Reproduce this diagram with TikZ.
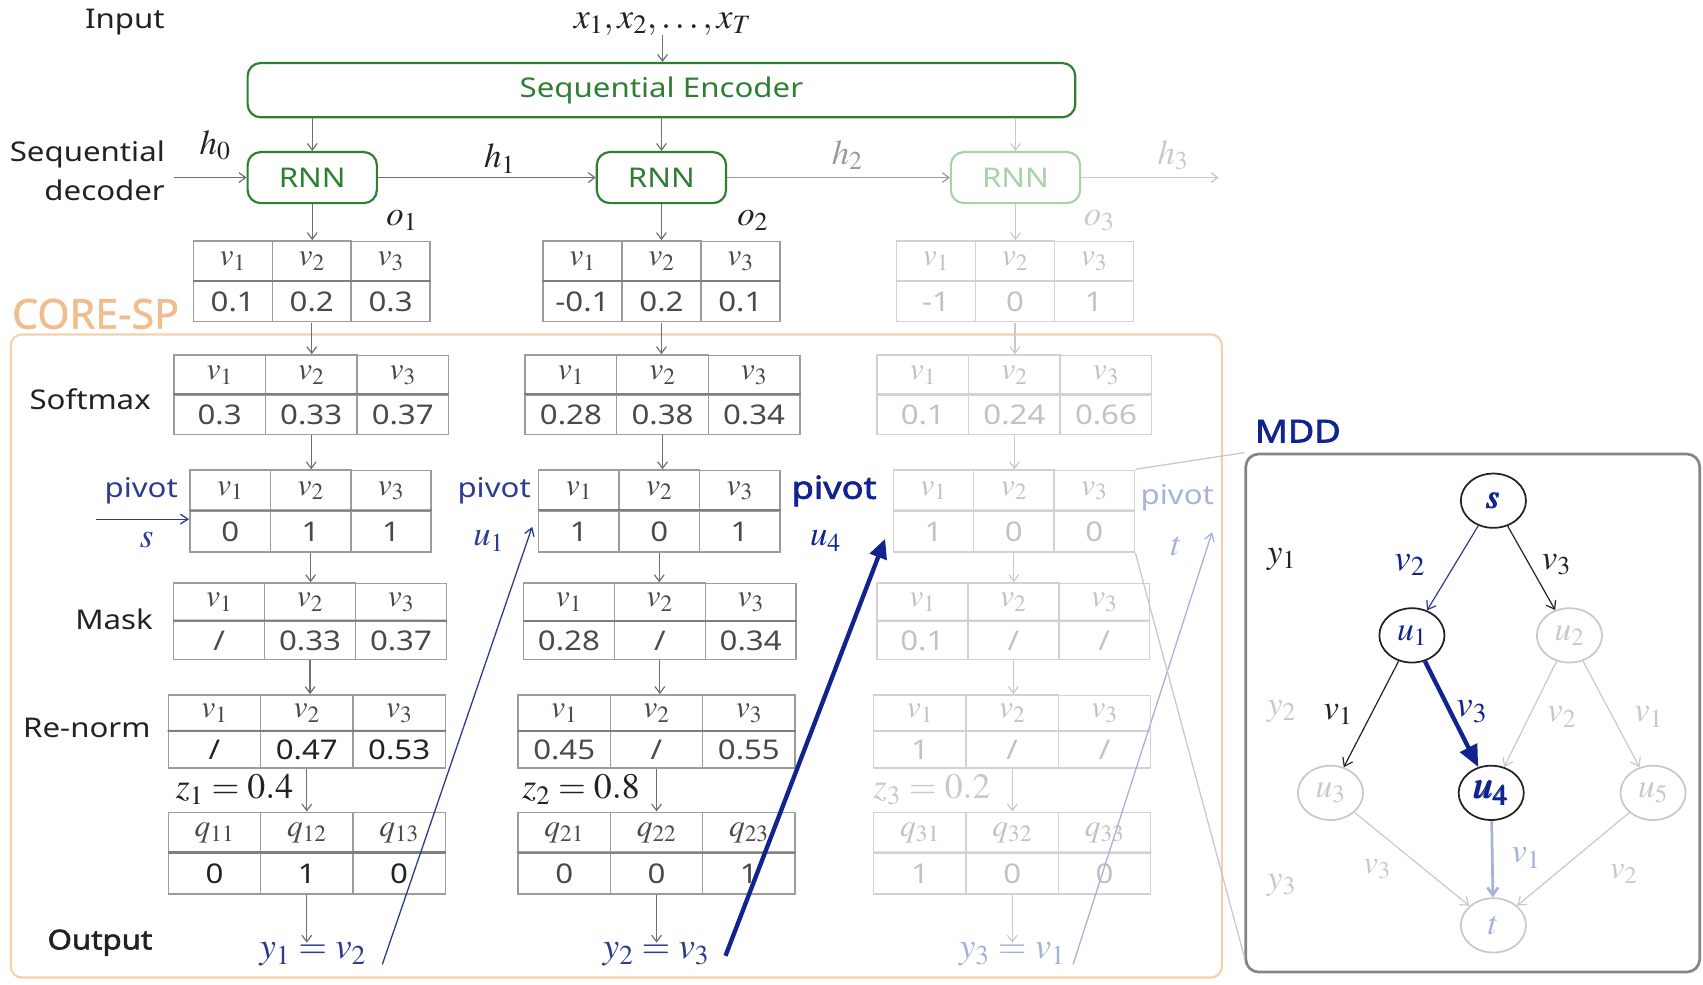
\RequirePackage{fix-cm}
\documentclass[tikz,border=0pt]{standalone}
\usepackage{amsmath}
\IfFileExists{mathptmx.sty}{\usepackage{mathptmx}}{}
\usepackage[no-math]{fontspec}
\setmainfont[FakeStretch=1.15, AutoFakeBold=2.2]{Noto Sans}
\newfontfamily\corefont[FakeBold=1.2]{Noto Sans}
\usetikzlibrary{arrows.meta,shapes.geometric,matrix,calc}

\definecolor{encgreen}{HTML}{2F7F33}
\definecolor{palegreen}{HTML}{A8D2A8}
\definecolor{labelblack}{HTML}{222222}
\definecolor{arrgray}{HTML}{707070}
\definecolor{midgray}{HTML}{9A9A9A}
\definecolor{palegray}{HTML}{C9C9C9}
\definecolor{tline}{HTML}{9C9C9C}
\definecolor{tsep}{HTML}{7E7E7E}
\definecolor{ttext}{HTML}{4A4A4A}
\definecolor{lline}{HTML}{D2D2D2}
\definecolor{ltext}{HTML}{C2C2C2}
\definecolor{peach}{HTML}{F4D0AC}
\definecolor{peachtext}{HTML}{F2BD8E}
\definecolor{pivblue}{HTML}{2C3C90}
\definecolor{navy}{HTML}{11238F}
\definecolor{lightblue}{HTML}{A7B2DC}
\definecolor{mddgray}{HTML}{858585}

\begin{document}
\begin{tikzpicture}[x=1pt,y=-1pt,
  lbl/.style={font=\fontsize{25}{36}\selectfont, text=labelblack, inner sep=0pt},
  mlbl/.style={font=\fontsize{#1}{#1}\selectfont, text=labelblack, inner sep=0pt},
  arr/.style={draw=arrgray, line width=1.1pt, -{Straight Barb[length=6pt,width=9pt]}},
  greenbox/.style={draw=encgreen, line width=2pt, rounded corners=12pt, text=encgreen,
    font=\fontsize{25}{25}\selectfont},
  vtab/.style={matrix of nodes, inner sep=0pt, column sep=-1.3pt, row sep=-1.3pt,
    nodes={draw=tline, line width=1.3pt, inner sep=0pt, text=ttext,
      font=\fontsize{25}{25}\selectfont},
    row 1/.style={nodes={font=\fontsize{29}{29}\selectfont}}},
  vtabL/.style={vtab, nodes={draw=lline, text=ltext}},
  cell/.style 2 args={nodes={minimum width=#1pt, minimum height=#2pt}},
  sepline/.style={draw=tsep, line width=2pt},
  sepL/.style={draw=lline, line width=2pt},
  pivarrow/.style={draw=pivblue, line width=1.2pt, -{Straight Barb[length=7pt,width=9pt]}},
  zoomline/.style={draw=palegray, line width=1.2pt},
  mnode/.style={ellipse, draw=labelblack, line width=1.6pt, minimum width=60pt,
    minimum height=50pt, inner sep=0pt, font=\fontsize{31}{31}\selectfont},
  medge/.style={line width=1.1pt, -{Straight Barb[length=7pt,width=10pt]}}
]
\useasboundingbox (0,0) rectangle (1568,906);

% ---------------- encoder / decoder ----------------
\node[lbl] (inp) at (115,20) {Input};
\node[mlbl=33] (xs) at (610,22) {$x_1, x_2, \ldots, x_T$};
\node[greenbox, minimum width=762pt, minimum height=50pt] (enc) at (609,83) {Sequential Encoder};
\draw[arr] (xs.south) -- (xs.south |- enc.north);

\node[lbl, align=right, anchor=east] (dec) at (152,157) {Sequential\\decoder};

\node[greenbox, minimum width=119pt, minimum height=47pt] (rnn1) at (287.5,163.5) {RNN};
\node[greenbox, minimum width=119pt, minimum height=47pt] (rnn2) at (609,163.5) {RNN};
\node[greenbox, draw=palegreen, text=palegreen, minimum width=119pt, minimum height=47pt] (rnn3) at (935,163.5) {RNN};

\draw[arr] (enc.south -| rnn1.north) -- (rnn1.north);
\draw[arr] (enc.south -| rnn2.north) -- (rnn2.north);
\draw[arr, draw=palegray] (enc.south -| rnn3.north) -- (rnn3.north);

\coordinate (h0in) at (160,163.5);
\coordinate (h3out) at (1122,163.5);
\draw[arr] (h0in) -- (rnn1.west);
\draw[arr] (rnn1.east) -- (rnn2.west);
\draw[arr, draw=midgray] (rnn2.east) -- (rnn3.west);
\draw[arr, draw=palegray] (rnn3.east) -- (h3out);
\node[mlbl=32] (h0) at (198,134) {$h_0$};
\node[mlbl=32] (h1) at (460,146) {$h_1$};
\node[mlbl=32, text=midgray] (h2) at (780,143) {$h_2$};
\node[mlbl=32, text=palegray] (h3) at (1080,143) {$h_3$};

\node[mlbl=32] (o1) at (370,203) {$o_1$};
\node[mlbl=32] (o2) at (693,203) {$o_2$};
\node[mlbl=32, text=palegray] (o3) at (1012,203) {$o_3$};

% ---------------- CORE-SP frame ----------------
\node[draw=peach, line width=2pt, rounded corners=10pt, minimum width=1115pt,
  minimum height=592pt] (core) at (567.5,604) {};
\node[font=\corefont\fontsize{38}{38}\selectfont, text=peachtext, inner sep=0pt] (corelbl) at (88,289) {CORE-SP};

% ---------------- output tables o ----------------
\matrix (t1) [vtab, cell={72.7}{37}] at (287,259) {
  $v_1$ & $v_2$ & $v_3$ \\ 0.1 & 0.2 & 0.3 \\};
\matrix (t2) [vtab, cell={72.7}{37}] at (609,259) {
  $v_1$ & $v_2$ & $v_3$ \\ -0.1 & 0.2 & 0.1 \\};
\matrix (t3) [vtabL, cell={72.7}{37}] at (934.5,259) {
  $v_1$ & $v_2$ & $v_3$ \\ -1 & 0 & 1 \\};

% ---------------- softmax ----------------
\node[lbl] (lsoft) at (83,368) {Softmax};
\matrix (s1) [vtab, cell={84.3}{36.5}] at (286.5,363.5) {
  $v_1$ & $v_2$ & $v_3$ \\ 0.3 & 0.33 & 0.37 \\};
\matrix (s2) [vtab, cell={84.3}{36.5}] at (610,363.5) {
  $v_1$ & $v_2$ & $v_3$ \\ 0.28 & 0.38 & 0.34 \\};
\matrix (s3) [vtabL, cell={84.3}{36.5}] at (934,363.5) {
  $v_1$ & $v_2$ & $v_3$ \\ 0.1 & 0.24 & 0.66 \\};

% ---------------- pivot ----------------
\matrix (p1) [vtab, cell={74}{37.5}] at (286,470.5) {
  $v_1$ & $v_2$ & $v_3$ \\ 0 & 1 & 1 \\};
\matrix (p2) [vtab, cell={74}{37.5}] at (607,470.5) {
  $v_1$ & $v_2$ & $v_3$ \\ 1 & 0 & 1 \\};
\matrix (p3) [vtabL, cell={74}{37.5}] at (933.5,470.5) {
  $v_1$ & $v_2$ & $v_3$ \\ 1 & 0 & 0 \\};

\node[lbl, text=pivblue] (pv1) at (130,452) {pivot};
\node[mlbl=32, text=pivblue] (pvs) at (135,497) {$s$};
\coordinate (sin) at (88,478);
\draw[pivarrow] (sin) -- (sin -| p1.west);
\node[lbl, text=pivblue] (pv2) at (455,452) {pivot};
\node[mlbl=32, text=pivblue] (pvu1) at (450,498) {$u_1$};
\node[lbl, font=\bfseries\fontsize{29}{29}\selectfont, text=navy] (pv3) at (768,452) {pivot};
\node[mlbl=32, text=navy] (pvu4) at (760,498) {$u_4$};
\node[lbl, text=lightblue] (pv4) at (1084,458) {pivot};
\node[mlbl=32, text=lightblue] (pvt) at (1083,503) {$t$};

% ---------------- mask ----------------
\node[lbl] (lmask) at (105,570) {Mask};
\matrix (m1) [vtab, cell={83.7}{35}] at (285.5,572) {
  $v_1$ & $v_2$ & $v_3$ \\ / & 0.33 & 0.37 \\};
\matrix (m2) [vtab, cell={83.7}{35}] at (607.5,572) {
  $v_1$ & $v_2$ & $v_3$ \\ 0.28 & / & 0.34 \\};
\matrix (m3) [vtabL, cell={83.7}{35}] at (933,572) {
  $v_1$ & $v_2$ & $v_3$ \\ 0.1 & / & / \\};

% ---------------- re-norm ----------------
\node[lbl] (lnorm) at (80,670) {Re-norm};
\matrix (r1) [vtab, cell={85}{33.5}, row 2/.style={nodes={text=labelblack}}] at (282.5,673.5) {
  $v_1$ & $v_2$ & $v_3$ \\ / & 0.47 & 0.53 \\};
\matrix (r2) [vtab, cell={85}{33.5}] at (604.5,673.5) {
  $v_1$ & $v_2$ & $v_3$ \\ 0.45 & / & 0.55 \\};
\matrix (r3) [vtabL, cell={85}{33.5}] at (932,673.5) {
  $v_1$ & $v_2$ & $v_3$ \\ 1 & / & / \\};

\node[mlbl=33] (z1) at (216,727) {$z_1 = 0.4$};
\node[mlbl=33] (z2) at (535,727) {$z_2 = 0.8$};
\node[mlbl=33, text=palegray] (z3) at (858,727) {$z_3 = 0.2$};

% ---------------- sampled one-hot ----------------
\matrix (q1) [vtab, cell={85}{37.5}, row 2/.style={nodes={text=labelblack}}] at (282.5,785.5) {
  $q_{11}$ & $q_{12}$ & $q_{13}$ \\ 0 & 1 & 0 \\};
\matrix (q2) [vtab, cell={85}{37.5}] at (604.5,785.5) {
  $q_{21}$ & $q_{22}$ & $q_{23}$ \\ 0 & 0 & 1 \\};
\matrix (q3) [vtabL, cell={85}{37.5}] at (932,785.5) {
  $q_{31}$ & $q_{32}$ & $q_{33}$ \\ 1 & 0 & 0 \\};

% header separators
\foreach \t in {t1,t2,s1,s2,p1,p2,m1,m2,r1,r2,q1,q2}
  \draw[sepline] (\t-2-1.north west) -- (\t-2-3.north east);
\foreach \t in {t3,s3,p3,m3,r3,q3}
  \draw[sepL] (\t-2-1.north west) -- (\t-2-3.north east);

% ---------------- output ----------------
\node[lbl, font=\bfseries\fontsize{25}{25}\selectfont] (lout) at (92,868) {Output};
\node[mlbl=34, text=pivblue] (y1) at (288,879) {$y_1 = v_2$};
\node[mlbl=34, text=pivblue] (y2) at (604,879) {$y_2 = v_3$};
\node[mlbl=34, text=lightblue] (y3) at (932,879) {$y_3 = v_1$};

% ---------------- vertical flow ----------------
\draw[arr] (rnn1.south) -- (rnn1.south |- t1.north);
\draw[arr] (rnn2.south) -- (rnn2.south |- t2.north);
\draw[arr, draw=palegray] (rnn3.south) -- (rnn3.south |- t3.north);
\foreach \a/\b in {t1/s1,s1/p1,p1/m1,m1/r1,r1/q1,t2/s2,s2/p2,p2/m2,m2/r2,r2/q2}
  \draw[arr] (\a.south) -- (\a.south |- \b.north);
\foreach \a/\b in {t3/s3,s3/p3,p3/m3,m3/r3,r3/q3}
  \draw[arr, draw=palegray] (\a.south) -- (\a.south |- \b.north);
\draw[arr] (q1.south) -- (q1.south |- y1.north);
\draw[arr] (q2.south) -- (q2.south |- y2.north);
\draw[arr, draw=palegray] (q3.south) -- (q3.south |- y3.north);

% ---------------- feedback of the chosen node ----------------
\coordinate (a1s) at (352,888);
\coordinate (a1e) at (490,485);
\draw[pivarrow] (a1s) -- (a1e);
\coordinate (a2s) at (668,880);
\coordinate (a2e) at (815,496);
\draw[draw=navy, line width=4pt, -{Triangle[length=18pt,width=16pt]}] (a2s) -- (a2e);
\coordinate (a3s) at (988,888);
\coordinate (a3e) at (1116,490);
\draw[pivarrow, draw=lightblue] (a3s) -- (a3e);

% ---------------- MDD ----------------
\node[draw=mddgray, line width=2.5pt, rounded corners=12pt, minimum width=418pt,
  minimum height=477pt] (mdd) at (1356,656.5) {};
\node[lbl, font=\bfseries\fontsize{29}{29}\selectfont, text=navy] (mddlbl) at (1195,397) {MDD};
\draw[zoomline] (p3.north east) -- (mdd.north west);
\draw[zoomline] (p3.south east) -- ($(mdd.south west)+(0,-15)$);

\node[mnode, text=navy] (ms) at (1375,461) {$\pmb{s}$};
\node[mnode, text=navy] (mu1) at (1300,585) {$u_1$};
\node[mnode, draw=palegray, text=palegray] (mu2) at (1445,585) {$u_2$};
\node[mnode, draw=palegray, text=palegray] (mu3) at (1225,730) {$u_3$};
\node[mnode, text=navy, font=\fontsize{36}{36}\selectfont] (mu4) at (1373,730) {$\pmb{u}_{\pmb{4}}$};
\node[mnode, draw=palegray, text=palegray] (mu5) at (1522,730) {$u_5$};
\node[mnode, draw=palegray, text=lightblue] (mt) at (1375,852) {$t$};

\draw[medge, draw=pivblue] (ms) -- (mu1);
\draw[medge, draw=labelblack] (ms) -- (mu2);
\draw[medge, draw=labelblack] (mu1) -- (mu3);
\draw[draw=navy, line width=4pt, -{Triangle[length=20pt,width=17pt]}] (mu1) -- (mu4);
\draw[medge, draw=palegray] (mu2) -- (mu4);
\draw[medge, draw=palegray] (mu2) -- (mu5);
\draw[medge, draw=palegray] (mu3) -- (mt);
\draw[medge, draw=lightblue, line width=2.5pt] (mu4) -- (mt);
\draw[medge, draw=palegray] (mu5) -- (mt);

\node[mlbl=32] (ly1) at (1180,515) {$y_1$};
\node[mlbl=32, text=palegray] (ly2) at (1180,655) {$y_2$};
\node[mlbl=32, text=palegray] (ly3) at (1180,815) {$y_3$};

\node[mlbl=34, text=navy] (e1) at (1298,520) {$v_2$};
\node[mlbl=32] (e2) at (1433,520) {$v_3$};
\node[mlbl=32] (e3) at (1232,658) {$v_1$};
\node[mlbl=34, text=navy] (e4) at (1355,655) {$v_3$};
\node[mlbl=32, text=palegray] (e5) at (1438,660) {$v_2$};
\node[mlbl=32, text=palegray] (e6) at (1518,660) {$v_1$};
\node[mlbl=30, text=palegray] (e7) at (1268,800) {$v_3$};
\node[mlbl=32, text=lightblue] (e8) at (1405,790) {$v_1$};
\node[mlbl=30, text=palegray] (e9) at (1495,805) {$v_2$};
\end{tikzpicture}
\end{document}
